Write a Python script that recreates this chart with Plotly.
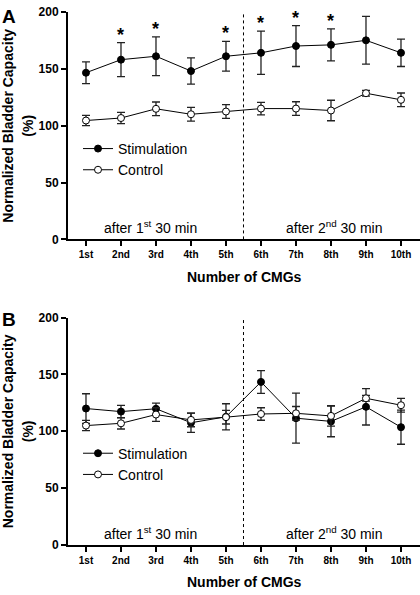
import plotly.graph_objects as go

# ---------------- data ----------------
cmg_labels = ["1st", "2nd", "3rd", "4th", "5th", "6th", "7th", "8th", "9th", "10th"]
cmg_index = [1, 2, 3, 4, 5, 6, 7, 8, 9, 10]

# Panel A
stim_a = [146.5, 158, 161, 148, 161, 164, 170, 171, 175, 164]
stim_a_err = [9.5, 15, 17, 11.5, 13, 19, 18, 14, 21, 12]
ctrl_a = [104.5, 106.7, 114.8, 110, 112.4, 115, 115, 113.3, 128.5, 122.7]
ctrl_a_err = [4.5, 5, 6, 6, 6, 5.5, 6, 9, 2.5, 6]
sig_a = [False, True, True, False, True, True, True, True, False, False]

# Panel B
stim_b = [120, 117.3, 119.8, 107.5, 112.7, 143.4, 111.5, 108.7, 121.5, 103.6]
stim_b_err = [13, 5.5, 5, 8.5, 11.5, 10, 22, 13.5, 16, 15]
ctrl_b = [105, 107, 114.7, 110, 112.4, 115.2, 115.8, 113.5, 129, 122.9]
ctrl_b_err = [4.5, 5, 6, 6, 6, 5.5, 6, 9, 2.5, 6]

y_ticks = [0, 50, 100, 150, 200]
split_at = 5.5
period_labels = ["after 1<sup>st</sup> 30 min", "after 2<sup>nd</sup> 30 min"]
period_x = [2.85, 8.1]

# ---------------- figure ----------------
W, H = 420, 595
FONT = "Arial, 'Liberation Sans', Helvetica, sans-serif"

fig = go.Figure()

def add_panel(stim, stim_err, ctrl, ctrl_err, xa, ya, legend):
    fig.add_trace(go.Scatter(
        x=cmg_index, y=stim, name="Stimulation", mode="lines+markers",
        xaxis=xa, yaxis=ya, legend=legend,
        line=dict(color="black", width=1),
        marker=dict(symbol="circle", size=7, color="black", line=dict(color="black", width=1)),
        error_y=dict(type="data", array=stim_err, visible=True, color="#222", thickness=1.3, width=4),
    ))
    fig.add_trace(go.Scatter(
        x=cmg_index, y=ctrl, name="Control", mode="lines+markers",
        xaxis=xa, yaxis=ya, legend=legend,
        line=dict(color="black", width=1),
        marker=dict(symbol="circle", size=7, color="white", line=dict(color="black", width=1)),
        error_y=dict(type="data", array=ctrl_err, visible=True, color="#222", thickness=1.3, width=4),
    ))

add_panel(stim_a, stim_a_err, ctrl_a, ctrl_a_err, "x", "y", "legend")
add_panel(stim_b, stim_b_err, ctrl_b, ctrl_b_err, "x2", "y2", "legend2")

def px_y(py):
    return 1 - py / H

def px_x(px):
    return (px - 68) / (W - 68)

xrange_ = [0.486, 10.543]
common_x = dict(
    range=xrange_, tickmode="array", tickvals=cmg_index,
    ticktext=cmg_labels, showline=True, linewidth=2, linecolor="black",
    ticks="outside", ticklen=5, tickwidth=2, tickcolor="black",
    tickfont=dict(family=FONT, size=10, color="black", weight="bold"),
    showgrid=False, zeroline=False, fixedrange=True,
)
common_y = dict(
    range=[0, 200], tickmode="array", tickvals=y_ticks,
    showline=True, linewidth=2, linecolor="black",
    ticks="outside", ticklen=5, tickwidth=2, tickcolor="black",
    tickfont=dict(family=FONT, size=12, color="black", weight="bold"),
    showgrid=False, zeroline=False, fixedrange=True,
)

legend_style = dict(xanchor="left", yanchor="top", bgcolor="rgba(0,0,0,0)",
                    font=dict(family=FONT, size=14, color="black"),
                    tracegroupgap=0, itemwidth=30)

fig.update_layout(
    width=W, height=H,
    margin=dict(l=68, r=0, t=0, b=0),
    paper_bgcolor="white", plot_bgcolor="white",
    font=dict(family=FONT, color="black"),
    xaxis=dict(domain=[0, 1], anchor="y", **common_x),
    yaxis=dict(domain=[px_y(238), px_y(5)], anchor="x", **common_y),
    xaxis2=dict(domain=[0, 1], anchor="y2", **common_x),
    yaxis2=dict(domain=[px_y(551), px_y(318)], anchor="x2", **common_y),
    legend=dict(x=px_x(78), y=px_y(129), **legend_style),
    legend2=dict(x=px_x(78), y=px_y(441), **legend_style),
    showlegend=True,
)

# dashed separators and period labels
for xa, ya in [("x", "y"), ("x2", "y2")]:
    fig.add_shape(type="line", xref=xa, yref=ya, x0=split_at, x1=split_at, y0=0, y1=200,
                  line=dict(color="black", width=1, dash="3px,3px"))
    for lbl, xp in zip(period_labels, period_x):
        fig.add_annotation(xref=xa, yref=ya, x=xp, y=11, text=lbl, showarrow=False,
                           font=dict(family=FONT, size=14, color="black"),
                           xanchor="center", yanchor="middle")

# significance asterisks (panel A)
for xi, m, e, s in zip(cmg_index, stim_a, stim_a_err, sig_a):
    if s:
        fig.add_annotation(xref="x", yref="y", x=xi, y=m + e, text="<b>*</b>",
                           showarrow=False, yanchor="bottom", yshift=-4,
                           font=dict(family=FONT, size=18, color="black"))

# axis titles and panel letters
for yref, title_py, letter, letter_py in [("y domain", 276.7, "A", 10), ("y2 domain", 589, "B", 320)]:
    fig.add_annotation(xref="paper", yref=yref, x=px_x(8), y=0.5,
                       text="<b>Normalized Bladder Capacity</b>", textangle=-90,
                       showarrow=False, xanchor="center", yanchor="middle",
                       font=dict(family=FONT, size=14, color="black"))
    fig.add_annotation(xref="paper", yref=yref, x=px_x(28), y=0.5,
                       text="<b>(%)</b>", textangle=-90,
                       showarrow=False, xanchor="center", yanchor="middle",
                       font=dict(family=FONT, size=14, color="black"))
    fig.add_annotation(xref="paper", yref="paper", x=0.5, y=px_y(title_py),
                       text="<b>Number of CMGs</b>", showarrow=False,
                       xanchor="center", yanchor="middle",
                       font=dict(family=FONT, size=14, color="black"))
    fig.add_annotation(xref="paper", yref="paper", x=px_x(0), y=px_y(letter_py),
                       text="<b>%s</b>" % letter, showarrow=False,
                       xanchor="left", yanchor="middle",
                       font=dict(family=FONT, size=19, color="black"))

fig.write_html("out.html", config={"displayModeBar": False},
               post_script="document.body.style.margin='0px';")
